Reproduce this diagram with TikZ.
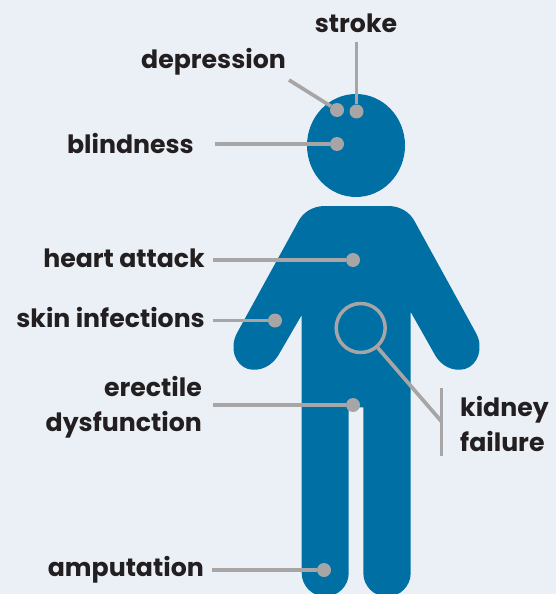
\documentclass[tikz,border=0pt]{standalone}
\usepackage{fontspec}
\setmainfont{Poppins}
\usepackage{xcolor}
\usetikzlibrary{positioning,calc}
\definecolor{bodyblue}{RGB}{0,111,163}
\definecolor{pagegray}{RGB}{234,240,245}
\definecolor{linegray}{RGB}{167,165,166}
\definecolor{textblack}{RGB}{35,31,32}

\begin{document}
\begin{tikzpicture}[
 x=1pt, y=-1pt,
 organ/.style={circle, fill=linegray, minimum size=14pt, inner sep=0pt},
 label/.style={font=\fontsize{25.2}{35}\selectfont\bfseries, color=textblack, inner sep=0pt, align=right},
 pointer/.style={line width=3.7pt, color=linegray}
]

% Page
\useasboundingbox (0,0) rectangle (556,594);
\fill[pagegray] (0,0) rectangle (556,594);

% Figure
\begin{scope}
\clip (0,0) rectangle (556,594);
\fill[bodyblue] (356,145.5) ellipse (49 and 51.5);
\fill[bodyblue] (301.7,315) -- (278.5,355)
 .. controls (272,366) and (260,372) .. (248,369)
 .. controls (235,365) and (229,348) .. (237,333)
 -- (298,222)
 .. controls (303,212) and (313,206) .. (325,206)
 -- (388,206)
 .. controls (400,206) and (410,212) .. (415,222)
 -- (476,333)
 .. controls (484,348) and (478,365) .. (465,369)
 .. controls (453,372) and (441,366) .. (435,355)
 -- (410.7,312)
 -- (410.7,573)
 arc[start angle=0, end angle=180, x radius=23.7, y radius=23.7]
 -- (363.3,407.3) -- (348.7,407.3) -- (348.7,573)
 arc[start angle=0, end angle=180, x radius=23.5, y radius=23.5]
 -- cycle;
\end{scope}

% Labels
\node[label, anchor=base] (stroke) at (356,33) {stroke};
\node[label, anchor=base east] (depression) at (286,68) {depression};
\node[label, anchor=base east] (blindness) at (194,153) {blindness};
\node[label, anchor=base east] (heart) at (205,267) {heart attack};
\node[label, anchor=base east] (skin) at (205,327.5) {skin infections};
\node[label, anchor=east] (erectile) at (202,407.5) {erectile\\dysfunction};
\node[label, anchor=base east] (amputation) at (204,576) {amputation};
\node[label, anchor=west, align=left] (kidney) at (460,424.5) {kidney\\failure};

% Points on the body
\node[organ] (stroke_pt) at (356.5,111.5) {};
\node[organ] (depression_pt) at (337,110) {};
\node[organ] (blindness_pt) at (337,144) {};
\node[organ] (heart_pt) at (353,260) {};
\node[organ] (skin_pt) at (275,320.5) {};
\node[organ] (erectile_pt) at (353,405) {};
\node[organ] (amputation_pt) at (324,570) {};
\node[circle, draw=linegray, line width=3.5pt, minimum size=49pt, inner sep=0pt] (kidney_pt) at (360.7,328) {};

% Free ends of the pointers
\coordinate (stroke_end) at (356.5,42);
\coordinate (depression_end) at (289,80);
\coordinate (blindness_end) at (214.5,144);
\coordinate (heart_end) at (213,260);
\coordinate (skin_end) at (213,320.5);
\coordinate (erectile_end) at (213,405);
\coordinate (amputation_end) at (212,570);
\coordinate (bar_top) at (441.5,388);
\coordinate (bar_bottom) at (441.5,456);
\coordinate (bar_mid) at (441.5,421.5);

% Pointers
\draw[pointer] (stroke_end) -- (stroke_pt);
\draw[pointer] (depression_end) -- (depression_pt);
\draw[pointer] (blindness_end) -- (blindness_pt);
\draw[pointer] (heart_end) -- (heart_pt);
\draw[pointer] (skin_end) -- (skin_pt);
\draw[pointer] (erectile_end) -- (erectile_pt);
\draw[pointer] (amputation_end) -- (amputation_pt);
\draw[pointer] (kidney_pt) -- (bar_mid);
\draw[pointer] (bar_top) -- (bar_bottom);

\end{tikzpicture}
\end{document}
